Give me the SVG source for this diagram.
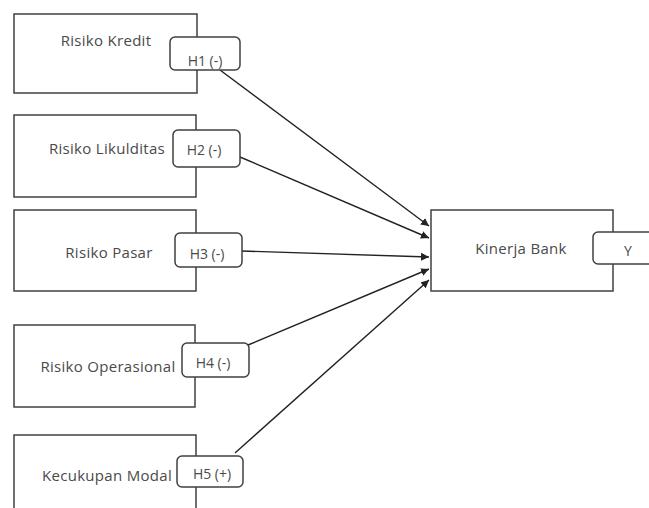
<svg xmlns="http://www.w3.org/2000/svg" width="649" height="508" viewBox="0 0 649 508">
<style>
.box{fill:#fff;stroke:#404040;stroke-width:1.5}
.lbl{fill:#fff;stroke:#404040;stroke-width:1.5}
.t{font-family:"Open Sans","Liberation Sans",sans-serif;font-size:15px;letter-spacing:0.3px;fill:#4a4a4a;text-anchor:middle;dominant-baseline:central}
.s{font-family:"Open Sans","Liberation Sans",sans-serif;font-size:14px;fill:#4a4a4a;text-anchor:middle;dominant-baseline:central}
.c{stroke:#222;stroke-width:1.4;fill:none;marker-end:url(#ah)}
</style>
<defs>
<marker id="ah" viewBox="0 0 10 10" refX="10" refY="5" markerWidth="8" markerHeight="8" markerUnits="userSpaceOnUse" orient="auto">
<path d="M0,0 L10,5 L0,10 z" fill="#222"/>
</marker>
</defs>
<g id="connectors">
<line class="c" x1="220" y1="70" x2="429" y2="226"/>
<line class="c" x1="240" y1="157" x2="429" y2="238"/>
<line class="c" x1="242" y1="251" x2="429" y2="257"/>
<line class="c" x1="248" y1="345" x2="429" y2="269"/>
<line class="c" x1="235" y1="453" x2="429" y2="280"/>
</g>
<g id="n1">
<rect class="box" x="14" y="14" width="183" height="79"/>
<text class="t" x="106" y="40">Risiko Kredit</text>
<rect class="lbl" x="170" y="37" width="70" height="33" rx="5"/>
<text class="s" x="205" y="60">H1 (-)</text>
</g>
<g id="n2">
<rect class="box" x="14" y="115" width="182" height="82"/>
<text class="t" x="107" y="148">Risiko Likulditas</text>
<rect class="lbl" x="173" y="130" width="67" height="37" rx="5"/>
<text class="s" x="204" y="149">H2 (-)</text>
</g>
<g id="n3">
<rect class="box" x="14" y="210" width="182" height="81"/>
<text class="t" x="109" y="252">Risiko Pasar</text>
<rect class="lbl" x="175" y="233" width="67" height="34" rx="5"/>
<text class="s" x="207" y="253">H3 (-)</text>
</g>
<g id="n4">
<rect class="box" x="14" y="325" width="181" height="82"/>
<text class="t" x="108" y="366">Risiko Operasional</text>
<rect class="lbl" x="182" y="343" width="67" height="34" rx="5"/>
<text class="s" x="213" y="362">H4 (-)</text>
</g>
<g id="n5">
<rect class="box" x="14" y="435" width="182" height="90"/>
<text class="t" x="107" y="475">Kecukupan Modal</text>
<rect class="lbl" x="177" y="456" width="66" height="31" rx="5"/>
<text class="s" x="212" y="473">H5 (+)</text>
</g>
<g id="y">
<rect class="box" x="431" y="210" width="182" height="81"/>
<text class="t" x="521" y="248">Kinerja Bank</text>
<rect class="lbl" x="593" y="232" width="70" height="32" rx="5"/>
<text class="s" x="628" y="250">Y</text>
</g>
</svg>
